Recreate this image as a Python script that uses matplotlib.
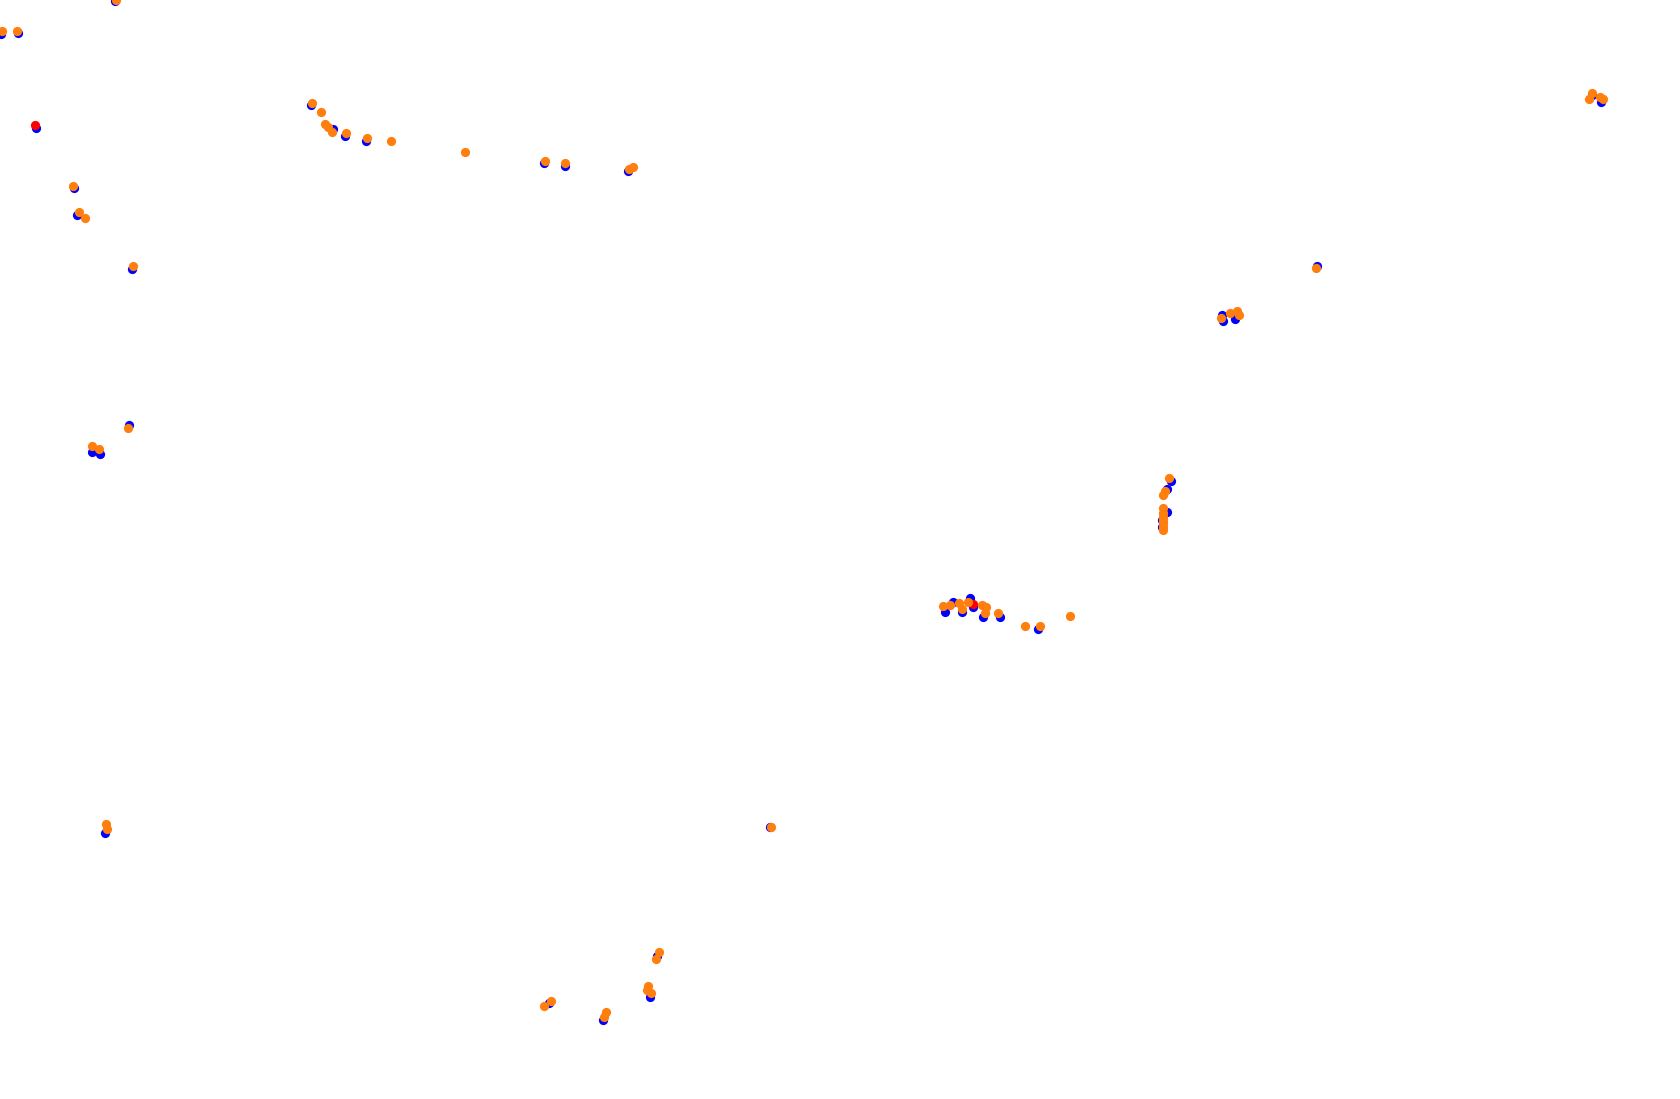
import numpy as np
import matplotlib
matplotlib.use('Agg')
import matplotlib.pyplot as plt

# positions (image pixel units, y downward)
blue_x = [1, 18, 115, 36, 310.7, 332.7, 345, 365.7, 543.7, 564.7, 628.3,
          1316.7, 1221.7, 1235, 1223.3, 1592.3, 1600.7,
          945, 953.3, 961.7, 970, 972.7, 983.3, 1000, 1038.3,
          1170.7, 1166.7, 1167.3, 1161.5, 1161.5,
          656.7, 650, 549.3, 602.7,
          129.3, 91.7, 100, 74, 77.3, 131.7, 105, 769.5]
blue_y = [34, 33, 1, 128, 105.3, 129, 136, 140.7, 163, 166, 171,
          265.7, 315, 319.3, 320.7, 95, 101.7,
          611.7, 601.7, 611.7, 598.3, 607.3, 616.7, 617.3, 629.3,
          480.7, 489.3, 511.7, 520, 527,
          956, 996.7, 1003.3, 1020,
          425, 451.7, 454, 188.3, 215, 269, 833.3, 826.7]

red_x = [35, 972.7]
red_y = [125, 604]

orange_x = [1.7, 16.7, 116, 311.7, 320.7, 325, 328.3, 331.7, 346, 366.7, 390.7,
            464.7, 544.7, 564.7, 632.7, 629.3,
            1315.7, 1220.7, 1230, 1237.3, 1239.3,
            1592.3, 1600, 1602.7, 1589.3,
            943.3, 950, 959.3, 961.7, 968.3, 981.7, 986, 985, 998.3,
            1025, 1040, 1070,
            1169.3, 1165, 1163.3, 1163.3, 1163.3, 1163.3, 1163.3, 1163.3,
            1163.3, 1163.3,
            659, 655.7, 647.7, 646.7, 651, 551, 544, 605.7, 604,
            128.3, 91.7, 99.3, 72.7, 79, 85, 132.7, 105.7, 106.7, 771]
orange_y = [31, 31, 0, 102.7, 112, 124.3, 127.3, 131.7, 133.3, 138.3, 140.7,
            151.7, 160.7, 162.7, 166.7, 169.3,
            268.3, 318.3, 313.3, 310.7, 315,
            92.7, 96.7, 99.3, 99,
            606, 605, 602.7, 609.3, 601.7, 605, 607.3, 613.3, 613.3,
            626, 626, 615.7,
            478.3, 490.7, 495, 508.3, 512.5, 516.7, 520, 523.3,
            527, 530,
            952.3, 959, 986, 990, 992.7, 1000.7, 1006, 1011.7, 1016.7,
            427.7, 446, 449.3, 185.7, 211.7, 218.3, 265.7, 824, 829.3, 826.7]

fig = plt.figure(figsize=(16.8, 10.99), dpi=100)
ax = fig.add_axes([0, 0, 1, 1])
ax.scatter(blue_x, blue_y, s=44, c='#0000ff', linewidths=0)
ax.scatter(red_x, red_y, s=44, c='#ff0000', linewidths=0)
ax.scatter(orange_x, orange_y, s=44, c='#ff7f0e', linewidths=0)
ax.set_xlim(0, 1680)
ax.set_ylim(1099, 0)
ax.axis('off')
fig.savefig('out.png', dpi=100)
